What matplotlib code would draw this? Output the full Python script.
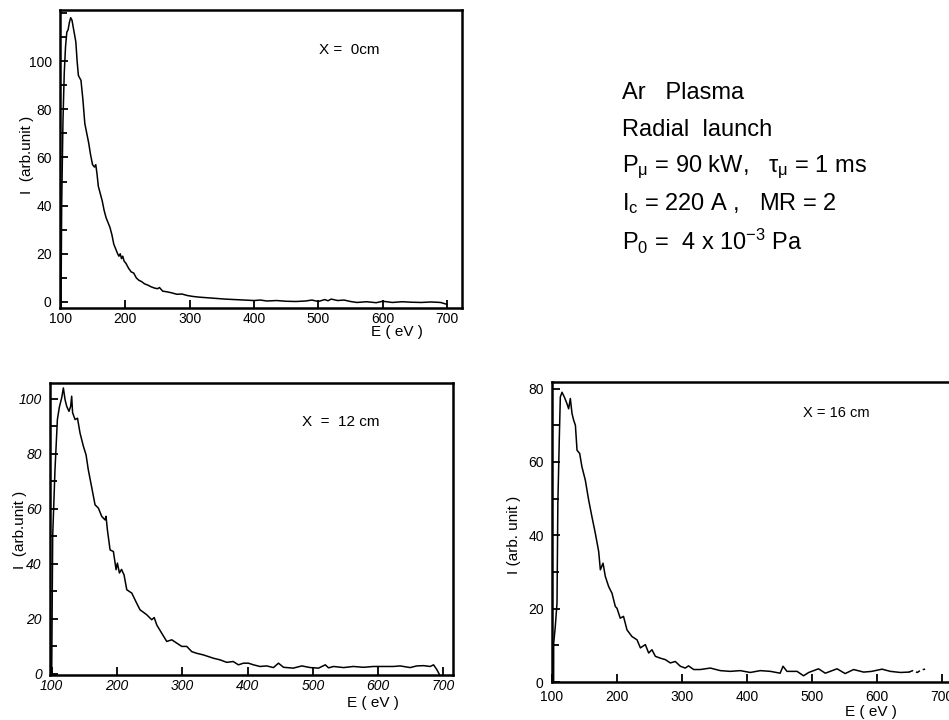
import matplotlib
matplotlib.use("Agg")
import matplotlib.pyplot as plt
from matplotlib.ticker import MultipleLocator

plt.rcParams["font.family"] = ["Liberation Sans", "DejaVu Sans"]
plt.rcParams["mathtext.fontset"] = "custom"
plt.rcParams["mathtext.rm"] = "Liberation Sans"
plt.rcParams["mathtext.it"] = "Liberation Sans"

# energy spectra, E in eV, I in arb. units
e_0cm = [100, 101, 103, 105, 107, 109, 111, 113, 115, 117,
         119, 121, 123, 125, 127, 129, 131, 134, 137, 140,
         143, 146, 149, 152, 154, 156, 158, 161, 164, 167,
         170, 173, 176, 179, 182, 185, 188, 190, 192, 194,
         196, 198, 201, 205, 209, 213, 217, 221, 225, 230,
         235, 240, 245, 250, 253, 258, 265, 272, 280, 288,
         296, 305, 315, 325, 340, 355, 370, 385, 400, 410,
         420, 435, 450, 465, 480, 490, 500, 510, 515, 520,
         530, 540, 550, 560, 575, 590, 600, 615, 630, 645,
         660, 675, 690, 700]
i_0cm = [0, 40, 75, 95, 106, 112, 113, 116, 118, 117,
         114, 111, 108, 100, 94, 93, 92, 84, 74, 70,
         66, 61, 57, 56, 57, 53, 48, 45, 42, 38,
         35, 33, 31, 28, 24, 22, 20, 19, 20, 18,
         19, 17, 16, 14, 12.5, 12, 10, 9, 8.5, 7.5,
         7, 6.3, 5.8, 5.5, 6, 4.5, 4.2, 3.8, 3.2, 3.3,
         2.7, 2.3, 2.0, 1.8, 1.5, 1.2, 1.0, 0.8, 0.6, 0.8,
         0.4, 0.6, 0.3, 0.2, 0.4, 0.8, 0.2, 1.0, 0.5, 1.2,
         0.6, 0.8, 0.2, -0.2, 0.1, -0.3, 0.3, -0.2, 0.1, -0.1,
         -0.2, 0.0, -0.2, -1.0]

e_12cm = [100, 101.5, 105, 108.7, 111.7, 115.3, 117.9, 120.4, 123, 126.5,
          129, 130.6, 132, 135.8, 139.5, 143.4, 148.5, 152.6, 156, 161,
          166.4, 171.5, 176.6, 181.7, 183.2, 185.3, 189.4, 194.5, 198.6, 200.6,
          203.7, 207, 210.8, 215, 222.6, 230.2, 235.3, 240, 245.6, 253.2,
          257, 260.9, 268.5, 276.2, 283.9, 291.5, 299.2, 306.8, 314.5, 322,
          332.4, 340, 347.7, 358, 368, 378, 386, 393.7, 401.3, 409,
          419, 429.4, 439.6, 447.3, 455, 470, 483, 496, 508.7, 519,
          524, 531.6, 547, 562, 577.6, 592.8, 608, 623.5, 633.7, 649,
          659, 669.5, 679.7, 684.8, 690, 694]
i_12cm = [0, 50, 74, 92.5, 97, 100.4, 104, 99.8, 97.3, 95.5,
          97.3, 101, 95, 92.5, 93, 87.6, 82.8, 79.7, 74.3, 68.2,
          61.5, 60.3, 57.3, 56, 57.3, 52.4, 45.1, 44.5, 37.9, 40.3,
          36.7, 38, 36, 30.6, 29.4, 25.7, 23.3, 22.5, 21.5, 19.7,
          20.5, 17.8, 14.8, 11.8, 12.4, 11.2, 10, 10, 8.1, 7.5,
          6.9, 6.3, 5.7, 5.1, 4.2, 4.5, 3.3, 3.9, 3.9, 3.3,
          2.7, 2.9, 2.3, 3.9, 2.4, 2.1, 2.9, 2.3, 2.1, 3.3,
          2.2, 2.7, 2.3, 2.7, 2.4, 2.7, 2.7, 2.7, 2.9, 2.3,
          2.9, 3.0, 2.7, 3.3, 1.5, -0.3]

e_16cm = [102.5, 102.6, 105, 107.7, 109, 111.3, 112.8, 115.4, 119, 123,
          125.6, 128.2, 130.8, 133.3, 136, 138.5, 142.6, 146, 151.3, 156.4,
          161.5, 166.7, 171.8, 174.4, 178.5, 182, 187.2, 192.3, 197.4, 200,
          205, 210, 215.4, 223, 230.8, 236, 243.6, 248.7, 253.8, 259,
          266.7, 274.4, 282, 289.7, 297.4, 305, 310, 318, 328, 343.6,
          359, 374, 389.7, 405, 420.5, 436, 451, 455.4, 461.5, 477,
          487, 495, 510, 520.5, 538.5, 551, 564, 579.5, 592, 607.7,
          620.5, 636, 649]
i_16cm = [0, 10.6, 15, 21.5, 48.7, 66.8, 77.7, 79, 77.7, 75.9,
          74.5, 77.3, 73.2, 71.4, 70, 63.2, 62.3, 58.7, 55, 49.6,
          45, 40.5, 35.6, 30.6, 32.4, 28.8, 26, 24.2, 20.6, 20.1,
          17.4, 17.9, 14.2, 12.4, 11.5, 9.3, 10.2, 7.9, 8.8, 7,
          6.5, 6.1, 5.2, 5.6, 4.3, 3.8, 4.4, 3.4, 3.4, 3.8,
          3.1, 2.9, 3.1, 2.6, 3.1, 2.9, 2.4, 4.3, 2.9, 2.9,
          1.7, 2.6, 3.6, 2.4, 3.6, 2.3, 3.4, 2.7, 2.9, 3.5,
          2.9, 2.6, 2.7]
e_16cm_tail = [649, 655, 662, 668, 674]
i_16cm_tail = [2.7, 3.1, 2.6, 3.3, 3.5]

W, H = 949, 720
fig = plt.figure(figsize=(W / 100, H / 100), dpi=100)


def px_axes(left, top, right, bottom):
    return fig.add_axes([left / W, 1 - bottom / H, (right - left) / W, (bottom - top) / H])


def ftext(x, y, s, **kw):
    fig.text(x / W, 1 - y / H, s, **kw)


def setup(ax, xlim, ylim, ymax_tick, italic=False, xpad=3):
    ax.set_xlim(xlim)
    ax.set_ylim(ylim)
    ax.set_xticks(range(100, 701, 100))
    ax.set_yticks(range(0, ymax_tick + 1, 20))
    ax.yaxis.set_minor_locator(MultipleLocator(10))
    ax.tick_params(direction="in", length=6, width=1.3, labelsize=10)
    ax.tick_params(which="minor", direction="in", length=5, width=1.3)
    ax.tick_params(axis="y", pad=6)
    ax.tick_params(axis="x", pad=xpad)
    if italic:
        for t in ax.get_xticklabels() + ax.get_yticklabels():
            t.set_fontstyle("italic")
    for s in ax.spines.values():
        s.set_linewidth(1.8)


ax1 = px_axes(60, 10, 462, 308)
ax1.plot(e_0cm, i_0cm, color="black", lw=1.1)
setup(ax1, (98.4, 723.3), (-2.5, 121.2), 100)
ftext(349, 50, "X =  0cm", fontsize=11, ha="center", va="center")
ftext(27, 155, "I  (arb.unit )", fontsize=11, rotation=90, ha="center", va="center")
ftext(397, 332, "E ( eV )", fontsize=11, ha="center", va="center")

ax2 = px_axes(50, 383, 453, 675)
ax2.plot(e_12cm, i_12cm, color="black", lw=1.1)
setup(ax2, (97.4, 714.6), (-0.4, 105.8), 100, italic=True)
ftext(341, 422, "X  =  12 cm", fontsize=11, ha="center", va="center")
ftext(20, 530, "I  (arb.unit )", fontsize=11, rotation=90, ha="center", va="center")
ftext(373, 703, "E ( eV )", fontsize=11, ha="center", va="center")

ax3 = px_axes(552, 382, 955, 682)
ax3.plot(e_16cm, i_16cm, color="black", lw=1.1)
ax3.plot(e_16cm_tail, i_16cm_tail, color="black", lw=1.1, ls=(0, (3, 2)))
setup(ax3, (100, 720), (0, 81.8), 80, xpad=6)
ftext(836, 413, "X = 16 cm", fontsize=10.5, ha="center", va="center")
ftext(514, 535, "I (arb. unit )", fontsize=11, rotation=90, ha="center", va="center")
ftext(871, 712, "E ( eV )", fontsize=11, ha="center", va="center")

info = ["Ar   Plasma",
        "Radial  launch",
        r"P$_{\mu}$ = 90 kW,   $\tau_{\mu}$ = 1 ms",
        r"I$_{c}$ = 220 A ,   MR = 2",
        r"P$_{0}$ =  4 x 10$^{-3}$ Pa"]
for k, line in enumerate(info):
    ftext(622, 93 + 37 * k, line, fontsize=17, ha="left", va="center")

fig.savefig("out.png", dpi=100)
